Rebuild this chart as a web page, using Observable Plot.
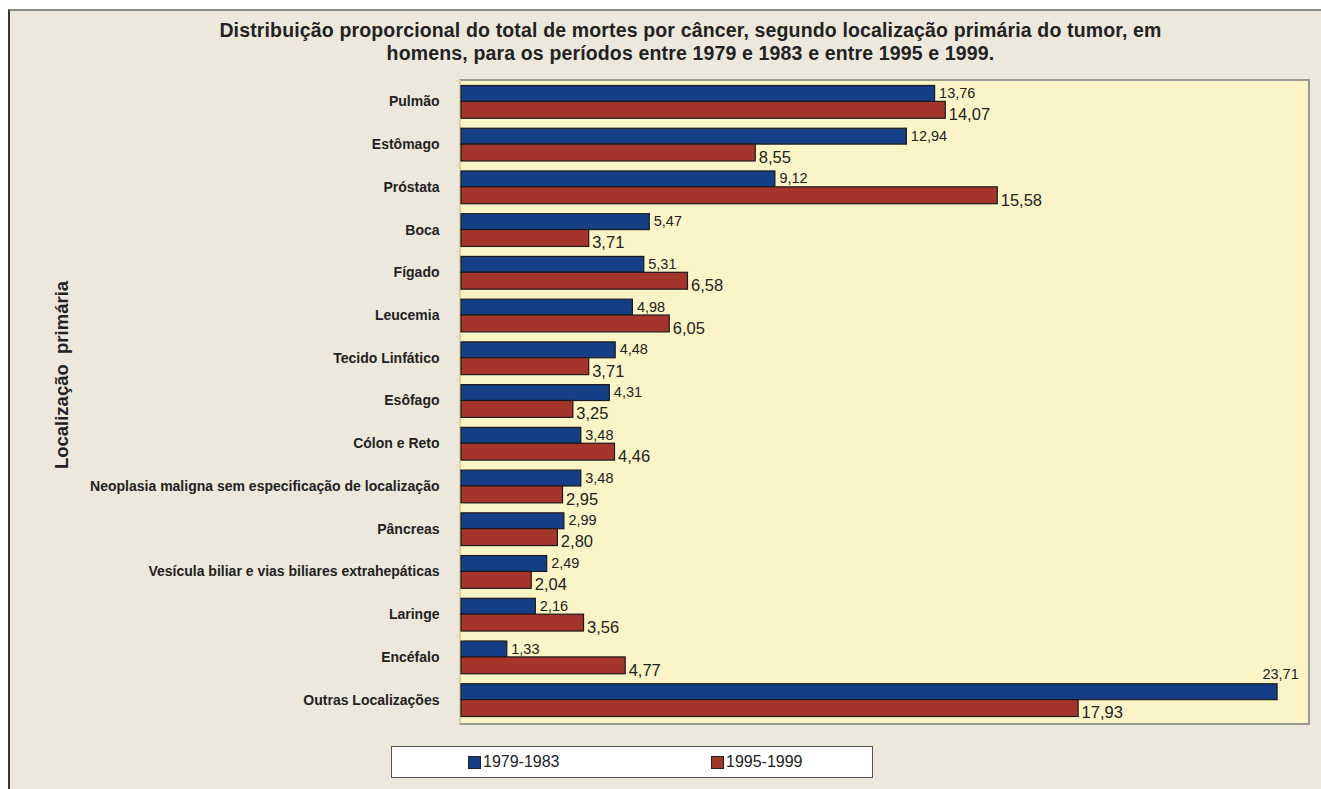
<!DOCTYPE html>
<html>
<head>
<meta charset="utf-8">
<script src="https://cdn.jsdelivr.net/npm/d3@7"></script>
<script src="https://cdn.jsdelivr.net/npm/@observablehq/plot@0.6"></script>
<style>
  html, body { margin: 0; padding: 0; background: #ffffff; }
  #wrap { position: relative; width: 1321px; height: 789px; overflow: hidden; font-family: "Liberation Sans", Arial, sans-serif; }
  #frame { position: absolute; left: 8px; top: 9px; width: 1330px; height: 800px; background: #ece9dc; border-left: 2px solid #3a3a3a; border-top: 2px solid #8a8a84; }
  #plotbg { position: absolute; left: 459px; top: 79px; width: 847px; height: 642px; background: #fbf4c6; border-top: 2px solid #9a9a94; border-right: 2px solid #9a9a94; border-bottom: 2px solid #9a9a94; border-left: 2px solid #d8d2a8; }
  #title { position: absolute; left: 0; top: 18.5px; width: 1381px; text-align: center; font-weight: bold; font-size: 19.5px; letter-spacing: 0.15px; line-height: 23px; color: #222; }
  #ytitle { position: absolute; left: 62px; top: 375px; transform: translate(-50%, -50%) rotate(-90deg); white-space: pre; font-weight: bold; font-size: 18.5px; color: #222; }
  #chart { position: absolute; left: 0; top: 0; }
  #chart svg { display: block; }
  #legend { position: absolute; left: 391px; top: 746px; width: 482px; height: 32px; background: #fff; border: 1px solid #555; box-sizing: border-box; font-size: 16px; color: #222; }
  .li { position: absolute; top: 6px; display: flex; align-items: center; }
  .sw { width: 11px; height: 11px; border: 1px solid #222; margin-right: 2px; }
</style>
</head>
<body>
<div id="wrap">
  <div id="frame"></div>
  <div id="plotbg"></div>
  <div id="title">Distribuição proporcional do total de mortes por câncer, segundo localização primária do tumor, em<br>homens, para os períodos entre 1979 e 1983 e entre 1995 e 1999.</div>
  <div id="ytitle">Localização  primária</div>
  <div id="chart"></div>
  <div id="legend"></div>
</div>
<script>
const locations = ["Pulmão","Estômago","Próstata","Boca","Fígado","Leucemia","Tecido Linfático","Esôfago","Cólon e Reto","Neoplasia maligna sem especificação de localização","Pâncreas","Vesícula biliar e vias biliares extrahepáticas","Laringe","Encéfalo","Outras Localizações"];
const series = ["1979-1983","1995-1999"];
const values1979 = [13.76,12.94,9.12,5.47,5.31,4.98,4.48,4.31,3.48,3.48,2.99,2.49,2.16,1.33,23.71];
const values1995 = [14.07,8.55,15.58,3.71,6.58,6.05,3.71,3.25,4.46,2.95,2.80,2.04,3.56,4.77,17.93];
const colors = ["#143f87","#a5352b"];

const d1 = locations.map((loc,i)=>({loc, value: values1979[i]}));
const d2 = locations.map((loc,i)=>({loc, value: values1995[i]}));
const fmt = v => v.toFixed(2).replace(".", ",");
const last = locations[locations.length-1];

const W = 1321, H = 789;
const mL = 461, mR = 14, mT = 80, mB = 68;
const band = (H - mT - mB) / locations.length;

const chart = Plot.plot({
  width: W, height: H,
  marginLeft: mL, marginRight: mR, marginTop: mT, marginBottom: mB,
  style: {background: "transparent", fontFamily: "'Liberation Sans', Arial, sans-serif"},
  x: {domain: [0, 24.58], axis: null},
  y: {domain: locations, padding: 0, round: false, label: null},
  marks: [
    Plot.axisY({tickSize: 0, tickPadding: 22, fontSize: 14, fontWeight: "bold", fill: "#222", label: null}),
    Plot.axisY({text: null, tickSize: 6, dy: -band/2, stroke: "#e0d8a8", label: null}),
    Plot.barX(d1, {x: "value", y: "loc", fill: colors[0], stroke: "#1a1a1a", strokeWidth: 1.2, insetTop: 5.5, insetBottom: band/2}),
    Plot.barX(d2, {x: "value", y: "loc", fill: colors[1], stroke: "#1a1a1a", strokeWidth: 1.2, insetTop: band/2, insetBottom: 4.5}),
    Plot.text(d1.filter(d=>d.loc!==last), {x: "value", y: "loc", text: d=>fmt(d.value), textAnchor: "start", dx: 4, dy: -8.5, fontSize: 14.5, fill: "#222"}),
    Plot.text(d1.filter(d=>d.loc===last), {x: "value", y: "loc", text: d=>fmt(d.value), textAnchor: "middle", dx: 3, dy: -26, fontSize: 14.5, fill: "#222"}),
    Plot.text(d2, {x: "value", y: "loc", text: d=>fmt(d.value), textAnchor: "start", dx: 3, dy: 13, fontSize: 16.5, fill: "#222"})
  ]
});
document.getElementById("chart").appendChild(chart);

const legend = document.getElementById("legend");
const lx = [76, 319];
series.forEach((s,i)=>{
  const el = document.createElement("div");
  el.className = "li";
  el.style.left = lx[i] + "px";
  el.innerHTML = `<div class="sw" style="background:${colors[i]}"></div><span>${s}</span>`;
  legend.appendChild(el);
});
</script>
</body>
</html>
